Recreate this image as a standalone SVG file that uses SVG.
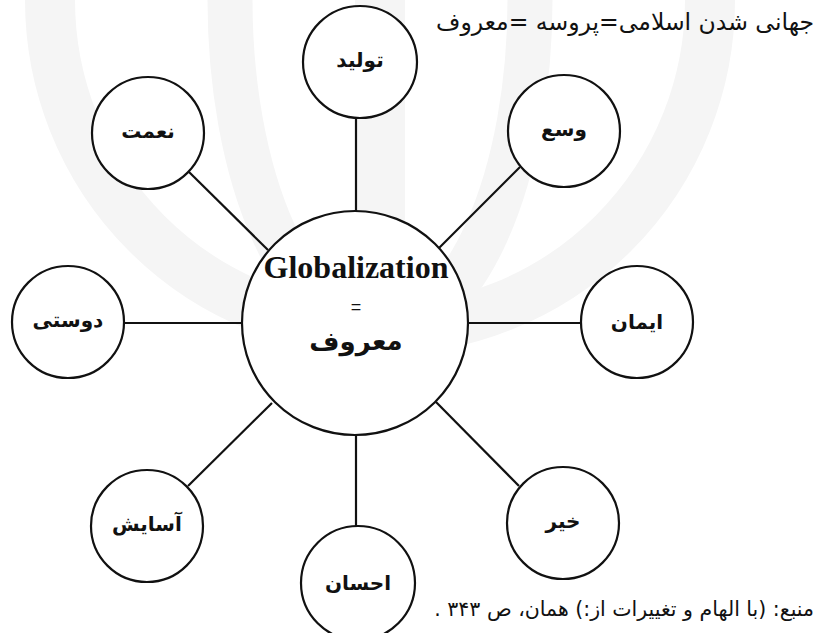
<svg xmlns="http://www.w3.org/2000/svg" width="818" height="633" viewBox="0 0 818 633">
<style>
.node{fill:#fff;stroke:#111;stroke-width:2.2}
.edge{stroke:#111;stroke-width:2.2;fill:none}
.lbl{font-family:"DejaVu Sans","Noto Sans",sans-serif;font-weight:bold;font-size:20px;text-anchor:middle;fill:#111}
.rtl{font-family:"DejaVu Sans","Noto Sans",sans-serif;fill:#111;direction:rtl;text-anchor:start}
.wm{fill:none;stroke:#f5f5f5}
</style>
<rect width="818" height="633" fill="#fff"/>
<g id="watermark">
<circle class="wm" cx="380" cy="0" r="330" stroke-width="50"/>
<ellipse class="wm" cx="380" cy="0" rx="150" ry="330" stroke-width="45"/>
<line class="wm" x1="380" y1="0" x2="380" y2="330" stroke-width="50"/>
</g>
<g id="connectors">
<line class="edge" x1="356" y1="118" x2="356" y2="212"/>
<line class="edge" x1="520" y1="167" x2="439" y2="248"/>
<line class="edge" x1="580" y1="323" x2="467" y2="323"/>
<line class="edge" x1="519" y1="486" x2="436" y2="402"/>
<line class="edge" x1="356" y1="435" x2="356" y2="526"/>
<line class="edge" x1="188" y1="486" x2="272" y2="403"/>
<line class="edge" x1="124" y1="323" x2="242" y2="323"/>
<line class="edge" x1="189" y1="172" x2="268" y2="250"/>
</g>
<g id="center">
<ellipse class="node" cx="355" cy="323" rx="113" ry="112"/>
<text x="356" y="278" font-family="'Liberation Serif',serif" font-weight="bold" font-size="32" text-anchor="middle" fill="#111">Globalization</text>
<text x="356" y="313" font-family="'Liberation Sans',sans-serif" font-size="18" text-anchor="middle" fill="#111">=</text>
<text x="356" y="350" class="lbl" style="font-size:26px">معروف</text>
</g>
<g id="n-tavlid"><ellipse class="node" cx="360" cy="62" rx="57" ry="56"/><text class="lbl" x="360" y="67">تولید</text></g>
<g id="n-vosa"><circle class="node" cx="564" cy="131" r="56"/><text class="lbl" x="564" y="136">وسع</text></g>
<g id="n-iman"><circle class="node" cx="637" cy="322" r="56"/><text class="lbl" x="637" y="329">ایمان</text></g>
<g id="n-kheyr"><circle class="node" cx="563" cy="523" r="56"/><text class="lbl" x="563" y="528">خیر</text></g>
<g id="n-ehsan"><circle class="node" cx="358" cy="583" r="57"/><text class="lbl" x="358" y="590">احسان</text></g>
<g id="n-asayesh"><circle class="node" cx="147" cy="526" r="56"/><text class="lbl" x="147" y="531">آسایش</text></g>
<g id="n-dusti"><circle class="node" cx="68" cy="322" r="56"/><text class="lbl" x="68" y="327">دوستی</text></g>
<g id="n-nemat"><circle class="node" cx="148" cy="133" r="56"/><text class="lbl" x="148" y="138">نعمت</text></g>
<text class="rtl" x="814" y="30" font-size="23.5">جهانی شدن اسلامی=پروسه =معروف</text>
<text class="rtl" x="814" y="616" font-size="20.5">منبع: (با الهام و تغییرات از:) همان، ص ۳۴۳ .</text>
</svg>
